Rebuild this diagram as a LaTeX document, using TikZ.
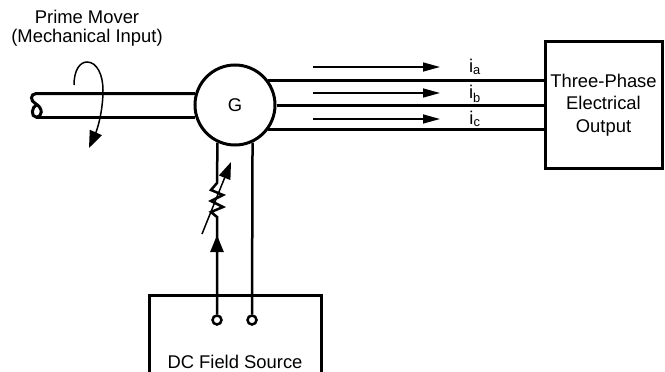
\documentclass[tikz,border=0pt]{standalone}
\usepackage{fontspec}
\setmainfont{Liberation Sans}
\usetikzlibrary{arrows.meta}

\tikzset{
    heavy/.style={line width=3pt},
    thinarrow/.style={line width=1.5pt, -{Triangle[length=17pt,width=9pt]}},
    terminal/.style={circle, draw, fill=white, line width=2.5pt, inner sep=0pt, minimum size=9pt},
}

\begin{document}
\begin{tikzpicture}[x=1pt, y=-1pt]
    \useasboundingbox (0,0) rectangle (665,372);
    \fontsize{18.4}{22.5}\selectfont
    % Draw the generator and the boxes
    \node[circle, draw, heavy, minimum size=80pt, inner sep=0pt] (G) at (235,105) {G};
    \node[draw, heavy, minimum width=117pt, minimum height=127pt, align=center, inner sep=0pt] (output) at (603.5,105) {Three-Phase\\Electrical\\Output};
    \draw[heavy] (149,385) |- (321,295) -- (321,385);
    \node (source) at (235,362) {DC Field Source};
    \node at (87,17) (prime) {Prime Mover};
    \node at (87,38) (input) {(Mechanical Input)};

    % Draw the shaft
    \coordinate (shafttop) at (36,94);
    \coordinate (shaftbot) at (36,117);
    \draw[heavy] (G.164) -- (G.164 -| shafttop) .. controls (30,94) and (30,101) .. (36,104)
        .. controls (43,108) and (43,117) .. (shaftbot) .. controls (31,117) and (31,107) .. (37,104.5);
    \draw[heavy] (shaftbot) -- (shaftbot -| G.196);

    % Draw the rotation arrow
    \draw[line width=1.5pt, -{Triangle[length=17pt,width=13pt]}] (74,85) .. controls (74,70) and (80,62) .. (87,62)
        .. controls (97,62) and (103,75) .. (103,90) .. controls (103,112) and (97,130) .. (89,148);

    % Draw the three phase lines
    \draw[heavy] (G.37) -- (G.37 -| output.west);
    \draw[heavy] (G.east) -- (output.west);
    \draw[heavy] (G.-37) -- (G.-37 -| output.west);

    % Draw the current arrows
    \foreach \name/\y in {a/67, b/93, c/119}{
        \coordinate (s\name) at (313,\y);
        \coordinate (e\name) at (440,\y);
        \draw[thinarrow] (s\name) -- (e\name);
    }
    \node[inner sep=0pt] (ia) at (475,67) {i\textsubscript{a}};
    \node[inner sep=0pt] (ib) at (475,94) {i\textsubscript{b}};
    \node[inner sep=0pt] (ic) at (475,119) {i\textsubscript{c}};

    % Draw the field circuit
    \node[terminal] (t1) at (217,320) {};
    \node[terminal] (t2) at (252,320) {};
    \coordinate (r1) at (217,183);
    \coordinate (r2) at (217,217);
    \draw[line width=2.5pt] (G.-115) -- (r1) -- (211,190) -- (223,195) -- (211,201) -- (223,207) -- (211,212) -- (r2) -- (t1);
    \draw[line width=2.5pt] (G.-65) -- (t2);
    \draw[line width=2.5pt, -{Triangle[length=17pt,width=13pt]}] (t1.north) -- (217,235);
    \coordinate (vs) at (202,234);
    \coordinate (ve) at (231,162);
    \draw[line width=1.5pt, -{Triangle[length=17pt,width=12pt]}] (vs) -- (ve);
\end{tikzpicture}
\end{document}
